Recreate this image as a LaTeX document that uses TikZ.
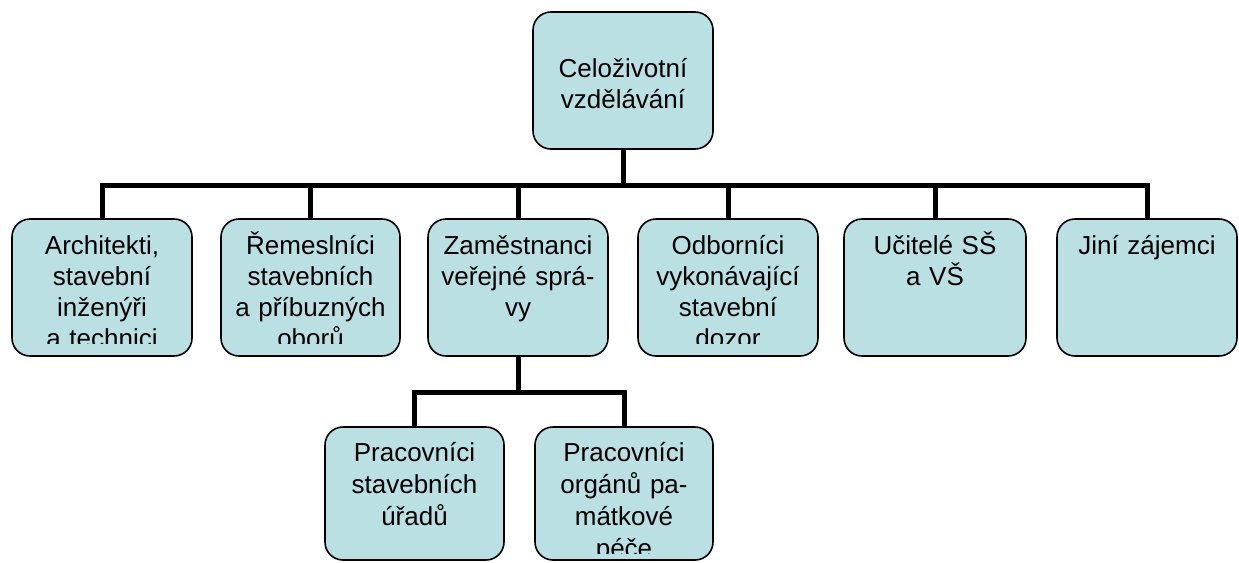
\documentclass[tikz,border=0pt]{standalone}
\usepackage{fontspec}
\setmainfont{Liberation Sans}
\definecolor{boxfill}{RGB}{187,224,227}
\tikzset{
  box/.style={draw=black, line width=1.6pt, fill=boxfill, rounded corners=18pt, inner sep=0pt},
  conn/.style={draw=black, line width=5pt},
  txtA/.style={inner sep=0pt, text width=176pt, align=center, anchor=base, font=\fontsize{26}{31}\selectfont},
  txtB/.style={inner sep=0pt, text width=176pt, align=center, anchor=base, font=\fontsize{26}{32}\selectfont}
}
\newcommand{\mybox}[5]{% name, x1, x2, y1, y2
  \path[box] (#2,#4) rectangle (#3,#5);
  \node[inner sep=0pt, minimum width={(#3-#2)*1pt}, minimum height={(#5-#4)*1pt}] (#1) at ({(#2+#3)/2},{(#4+#5)/2}) {};
}
\begin{document}
\begin{tikzpicture}[x=1pt,y=-1pt]
\useasboundingbox (0,0) rectangle (1239,562);
% boxes
\mybox{top}{533}{713}{12}{149}
\mybox{b1}{12}{192}{219}{356}
\mybox{b2}{221}{400}{219}{356}
\mybox{b3}{428}{608}{219}{356}
\mybox{b4}{638}{818}{219}{356}
\mybox{b5}{844}{1026}{219}{356}
\mybox{b6}{1057}{1237}{219}{356}
\mybox{c1}{325}{504}{427}{560}
\mybox{c2}{535}{713}{427}{560}
% junction points
\coordinate (bus) at (top.south |- 0,185);
\coordinate (bus2) at (b3.south |- 0,392);
% connectors
\draw[conn] (top.south) -- (bus);
\draw[conn] (bus) -| (b1.north);
\draw[conn] (bus) -| (b2.north);
\draw[conn] (bus) -| (b3.north);
\draw[conn] (bus) -| (b4.north);
\draw[conn] (bus) -| (b5.north);
\draw[conn] (bus) -| (b6.north);
\draw[conn] (b3.south) -- (bus2);
\draw[conn] (bus2) -| (c1.north);
\draw[conn] (bus2) -| (c2.north);
% texts
\node[txtA] (ttop) at (623,77) {Celoživotní\\vzdělávání};
\begin{scope}
\clip (12,219) rectangle (192,343);
\node[txtA] (t1) at (102,254) {Architekti,\\stavební\\inženýři\\a technici};
\end{scope}
\begin{scope}
\clip (221,219) rectangle (400,343);
\node[txtA] (t2) at (310.5,254) {Řemeslníci\\stavebních\\a příbuzných\\oborů};
\end{scope}
\node[txtA] (t3) at (518,254) {Zaměstnanci\\veřejné sprá-\\vy};
\begin{scope}
\clip (638,219) rectangle (818,343);
\node[txtA] (t4) at (728,254) {Odborníci\\vykonávající\\stavební\\dozor};
\end{scope}
\node[txtA] (t5) at (935,254) {Učitelé SŠ\\a VŠ};
\node[txtA] (t6) at (1147,254) {Jiní zájemci};
\node[txtB] (u1) at (414.5,461) {Pracovníci\\stavebních\\úřadů};
\begin{scope}
\clip (535,427) rectangle (713,553);
\node[txtB] (u2) at (624,461) {Pracovníci\\orgánů pa-\\mátkové\\péče};
\end{scope}
\end{tikzpicture}
\end{document}
